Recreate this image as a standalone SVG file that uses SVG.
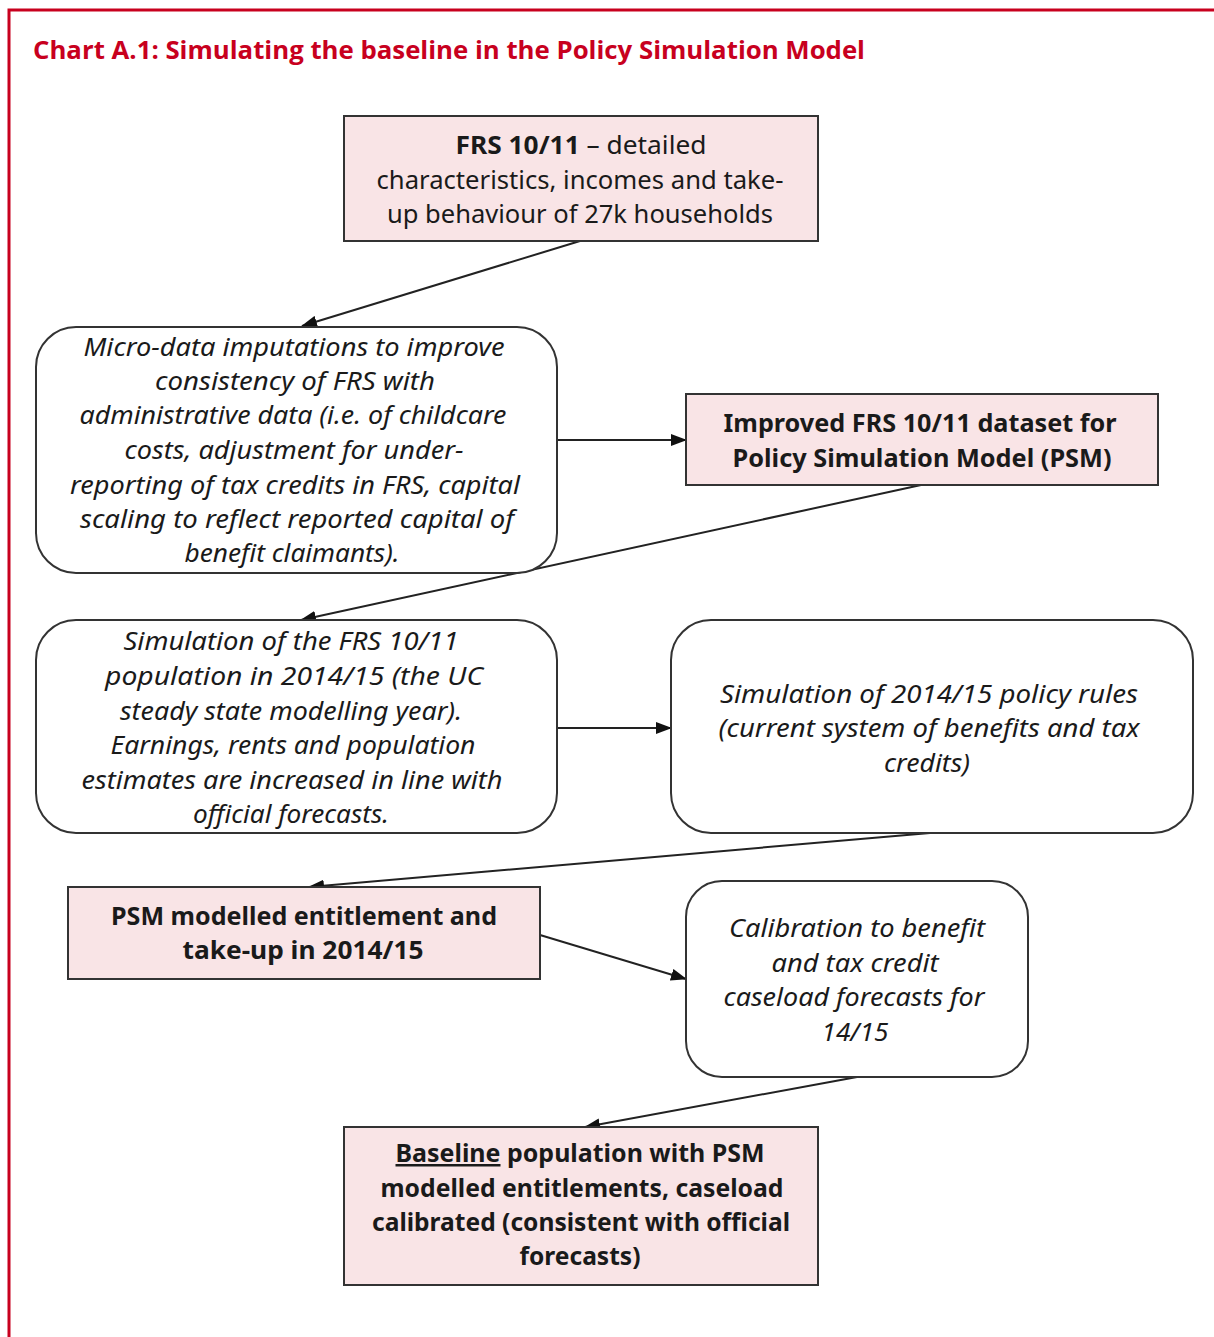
<svg xmlns="http://www.w3.org/2000/svg" width="1214" height="1337" viewBox="0 0 1214 1337">
<defs>
<marker id="arr" viewBox="0 0 16 12" refX="15" refY="6" markerWidth="16" markerHeight="12" markerUnits="userSpaceOnUse" orient="auto">
<path d="M0,0 L16,6 L0,12 z" fill="#111"/>
</marker>
</defs>
<style>
.frame{stroke:#c8001e;stroke-width:3;fill:none}
.title{font-family:"Open Sans","Noto Sans",sans-serif;font-weight:bold;font-size:25px;fill:#c8001e}
.pink{fill:#f9e4e6;stroke:#333;stroke-width:2}
.round{fill:#fff;stroke:#333;stroke-width:2}
.t{font-family:"Noto Sans","DejaVu Sans",sans-serif;font-size:25px;fill:#1a1a1a;text-anchor:middle}
.b{font-weight:bold}
.i{font-style:italic}
.c{stroke:#222;stroke-width:2;fill:none;marker-end:url(#arr)}
</style>
<rect width="1214" height="1337" fill="#fff"/>
<path class="frame" d="M9,1337 L9,10 L1214,10"/>
<text class="title" x="33" y="59" textLength="832" lengthAdjust="spacingAndGlyphs">Chart A.1: Simulating the baseline in the Policy Simulation Model</text>

<g id="connectors">
<line class="c" x1="580" y1="241" x2="302" y2="326"/>
<line class="c" x1="557" y1="440" x2="686" y2="440"/>
<line class="c" x1="921" y1="485" x2="301" y2="620"/>
<line class="c" x1="557" y1="728" x2="671" y2="728"/>
<line class="c" x1="930" y1="833" x2="309" y2="887"/>
<line class="c" x1="540" y1="935" x2="686" y2="979"/>
<line class="c" x1="857" y1="1077" x2="585" y2="1127"/>
</g>

<g id="n1">
<rect class="pink" x="344" y="116" width="474" height="125"/>
<text class="t" x="581" y="154" textLength="251" lengthAdjust="spacingAndGlyphs"><tspan class="b">FRS 10/11</tspan> – detailed</text>
<text class="t" x="580" y="189" textLength="407" lengthAdjust="spacingAndGlyphs">characteristics, incomes and take-</text>
<text class="t" x="580" y="223" textLength="386" lengthAdjust="spacingAndGlyphs">up behaviour of 27k households</text>
</g>

<g id="n2">
<rect class="round" x="36" y="327" width="521" height="246" rx="40"/>
<text class="t i" x="294" y="356" textLength="421" lengthAdjust="spacingAndGlyphs">Micro-data imputations to improve</text>
<text class="t i" x="295" y="390" textLength="280" lengthAdjust="spacingAndGlyphs">consistency of FRS with</text>
<text class="t i" x="293" y="424" textLength="427" lengthAdjust="spacingAndGlyphs">administrative data (i.e. of childcare</text>
<text class="t i" x="294" y="459" textLength="339" lengthAdjust="spacingAndGlyphs">costs, adjustment for under-</text>
<text class="t i" x="295" y="494" textLength="450" lengthAdjust="spacingAndGlyphs">reporting of tax credits in FRS, capital</text>
<text class="t i" x="297" y="528" textLength="434" lengthAdjust="spacingAndGlyphs">scaling to reflect reported capital of</text>
<text class="t i" x="292" y="562" textLength="215" lengthAdjust="spacingAndGlyphs">benefit claimants).</text>
</g>

<g id="n3">
<rect class="pink" x="686" y="394" width="472" height="91"/>
<text class="t b" x="920" y="432" textLength="393" lengthAdjust="spacingAndGlyphs">Improved FRS 10/11 dataset for</text>
<text class="t b" x="922" y="467" textLength="379" lengthAdjust="spacingAndGlyphs">Policy Simulation Model (PSM)</text>
</g>

<g id="n4">
<rect class="round" x="36" y="620" width="521" height="213" rx="40"/>
<text class="t i" x="291" y="650" textLength="335" lengthAdjust="spacingAndGlyphs">Simulation of the FRS 10/11</text>
<text class="t i" x="294" y="685" textLength="378" lengthAdjust="spacingAndGlyphs">population in 2014/15 (the UC</text>
<text class="t i" x="291" y="720" textLength="342" lengthAdjust="spacingAndGlyphs">steady state modelling year).</text>
<text class="t i" x="293" y="754" textLength="365" lengthAdjust="spacingAndGlyphs">Earnings, rents and population</text>
<text class="t i" x="292" y="789" textLength="421" lengthAdjust="spacingAndGlyphs">estimates are increased in line with</text>
<text class="t i" x="291" y="823" textLength="196" lengthAdjust="spacingAndGlyphs">official forecasts.</text>
</g>

<g id="n5">
<rect class="round" x="671" y="620" width="522" height="213" rx="40"/>
<text class="t i" x="929" y="703" textLength="418" lengthAdjust="spacingAndGlyphs">Simulation of 2014/15 policy rules</text>
<text class="t i" x="929" y="737" textLength="421" lengthAdjust="spacingAndGlyphs">(current system of benefits and tax</text>
<text class="t i" x="927" y="772" textLength="86" lengthAdjust="spacingAndGlyphs">credits)</text>
</g>

<g id="n6">
<rect class="pink" x="68" y="887" width="472" height="92"/>
<text class="t b" x="304" y="925" textLength="386" lengthAdjust="spacingAndGlyphs">PSM modelled entitlement and</text>
<text class="t b" x="303" y="959" textLength="241" lengthAdjust="spacingAndGlyphs">take-up in 2014/15</text>
</g>

<g id="n7">
<rect class="round" x="686" y="881" width="342" height="196" rx="36"/>
<text class="t i" x="857" y="937" textLength="256" lengthAdjust="spacingAndGlyphs">Calibration to benefit</text>
<text class="t i" x="855" y="972" textLength="167" lengthAdjust="spacingAndGlyphs">and tax credit</text>
<text class="t i" x="854" y="1006" textLength="261" lengthAdjust="spacingAndGlyphs">caseload forecasts for</text>
<text class="t i" x="855" y="1041" textLength="67" lengthAdjust="spacingAndGlyphs">14/15</text>
</g>

<g id="n8">
<rect class="pink" x="344" y="1127" width="474" height="158"/>
<text class="t b" x="580" y="1162" textLength="369" lengthAdjust="spacingAndGlyphs"><tspan text-decoration="underline">Baseline</tspan> population with PSM</text>
<text class="t b" x="582" y="1197" textLength="403" lengthAdjust="spacingAndGlyphs">modelled entitlements, caseload</text>
<text class="t b" x="581" y="1231" textLength="418" lengthAdjust="spacingAndGlyphs">calibrated (consistent with official</text>
<text class="t b" x="580" y="1265" textLength="121" lengthAdjust="spacingAndGlyphs">forecasts)</text>
</g>
</svg>
